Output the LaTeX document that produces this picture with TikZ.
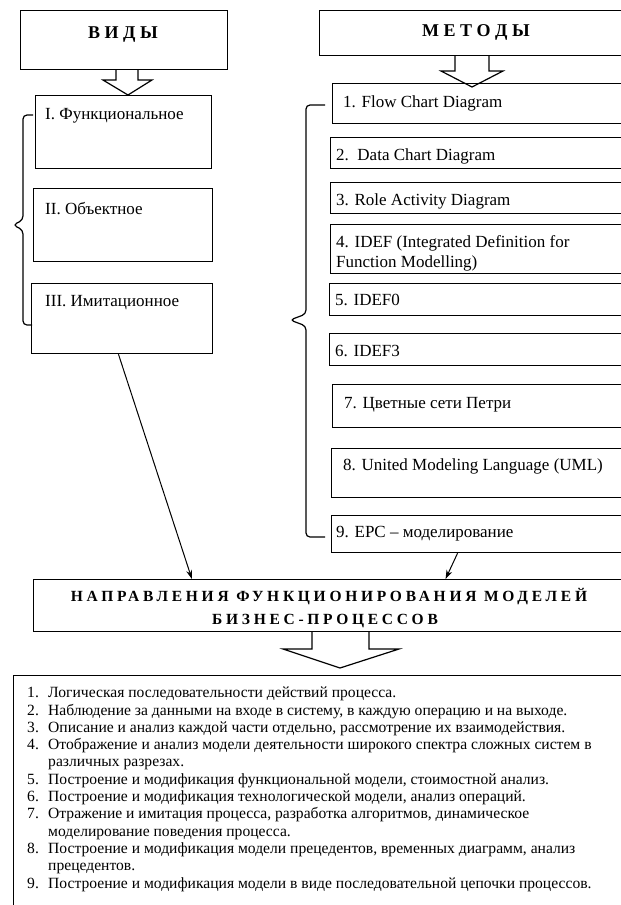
\documentclass[tikz,border=0pt]{standalone}
\usepackage{fontspec}
\setmainfont{Liberation Serif}
\newfontfamily\headfont[LetterSpace=24]{Liberation Serif}
\usetikzlibrary{arrows.meta,calc}
\tikzset{
  box/.style={draw, line width=1.2pt, inner sep=0pt, anchor=north west},
  btxt/.style={anchor=base west, inner sep=0pt, font=\fontsize{17}{20}\selectfont},
  ttl/.style={anchor=base, inner sep=0pt, font=\fontsize{18}{20}\selectfont\bfseries},
  htxt/.style={anchor=base, inner sep=0pt, font=\fontsize{15.5}{18}\headfont\bfseries},
  ltxt/.style={anchor=base west, inner sep=0pt, font=\fontsize{15.6}{17}\selectfont},
  hollow/.style={draw, line width=1.2pt, line join=miter},
  conn/.style={draw, line width=1pt, -{Stealth[length=9pt,width=6pt]}},
  brace/.style={draw, line width=1.2pt, rounded corners=4pt},
}
\newcommand\boxat[5]{\node[box, minimum width=#4pt, minimum height=#5pt] (#1) at (#2,#3) {};}
\newcommand\lline[4]{%
  \node[ltxt] (n#1) at (27,#2) {#3};
  \node[ltxt] (l#1) at (48,#2) {#4};}
\newcommand\lcont[3]{\node[ltxt] (l#1) at (48,#2) {#3};}
\begin{document}
\begin{tikzpicture}[x=1pt,y=-1pt]
\useasboundingbox (0,0) rectangle (621,905);
\clip (0,0) rectangle (621,905);
% hollow arrows
\draw[hollow] (116,69) -- (116,80) -- (103,80) -- (128,95) -- (152,80) -- (138,80) -- (138,69);
\draw[hollow] (455,55) -- (455,71) -- (441,71) -- (472,87) -- (503,71) -- (489,71) -- (489,55);
\draw[hollow] (312,631) -- (312,649) -- (283,649) -- (340,668) -- (399,649) -- (369,649) -- (369,631);
% left column
\boxat{vid}{20}{10}{207}{59}
\boxat{f1}{35}{95}{176}{73}
\boxat{f2}{33}{188}{179}{73}
\boxat{f3}{31}{283}{181}{70}
\node[ttl] (vidt) at (123,38) {В И Д Ы};
\node[btxt] (t1) at (45,119) {I. Функциональное};
\node[btxt] (t2) at (45,214) {II. Объектное};
\node[btxt] (t3) at (45,306) {III. Имитационное};
% right column
\boxat{met}{319}{10}{330}{45}
\boxat{m1}{332}{83}{320}{40}
\boxat{m2}{330}{137}{320}{31}
\boxat{m3}{330}{182}{320}{31}
\boxat{m4}{330}{224}{320}{49}
\boxat{m5}{329}{283}{320}{32}
\boxat{m6}{329}{333}{320}{32}
\boxat{m7}{332}{384}{320}{43}
\boxat{m8}{331}{448}{320}{49}
\boxat{m9}{331}{515}{320}{37}
\node[ttl] (mett) at (476,36) {М Е Т О Д Ы};
\node[btxt] (s1) at (343,107) {1. Flow Chart Diagram};
\node[btxt] (s2) at (336,160) {2.\ \ Data Chart Diagram};
\node[btxt] (s3) at (336,205) {3. Role Activity Diagram};
\node[btxt] (s4) at (336,247) {4. IDEF (Integrated Definition for};
\node[btxt] (s4b) at (336,267) {Function Modelling)};
\node[btxt] (s5) at (335,305) {5. IDEF0};
\node[btxt] (s6) at (335,356) {6. IDEF3};
\node[btxt] (s7) at (344,408) {7. Цветные сети Петри};
\node[btxt] (s8) at (343,470) {8. United Modeling Language (UML)};
\node[btxt] (s9) at (336,537) {9. EPC – моделирование};
% braces
\draw[brace] (33,115) -- (23,115) -- (23,220) -- (13,225) -- (23,230) -- (23,325) -- (32,325);
\draw[brace] (325,105) -- (306,105) -- (306,314) -- (290,320) -- (306,326) -- (306,537) -- (325,537);
% direction box
\boxat{dir}{33}{579}{610}{52}
\node[htxt] (d1) at (329,601) {НАПРАВЛЕНИЯ ФУНКЦИОНИРОВАНИЯ МОДЕЛЕЙ};
\node[htxt] (d2) at (325,624) {БИЗНЕС-ПРОЦЕССОВ};
% connectors
\draw[conn] ($(f3.south west)!0.48!(f3.south east)$) -- ($(dir.north west)!0.26!(dir.north east)$);
\draw[conn] ($(m9.south west)!0.394!(m9.south east)$) -- ($(dir.north west)!0.675!(dir.north east)$);
% list
\boxat{lst}{13}{675}{630}{260}
\lline{1}{697.7}{1.}{Логическая последовательности действий процесса.}
\lline{2}{715.0}{2.}{Наблюдение за данными на входе в систему, в каждую операцию и на выходе.}
\lline{3}{732.3}{3.}{Описание и анализ каждой части отдельно, рассмотрение их взаимодействия.}
\lline{4}{749.6}{4.}{Отображение и анализ модели деятельности широкого спектра сложных систем в}
\lcont{4b}{766.9}{различных разрезах.}
\lline{5}{784.2}{5.}{Построение и модификация функциональной модели, стоимостной анализ.}
\lline{6}{801.5}{6.}{Построение и модификация технологической модели, анализ операций.}
\lline{7}{818.8}{7.}{Отражение и имитация процесса, разработка алгоритмов, динамическое}
\lcont{7b}{836.1}{моделирование поведения процесса.}
\lline{8}{853.4}{8.}{Построение и модификация модели прецедентов, временных диаграмм, анализ}
\lcont{8b}{870.7}{прецедентов.}
\lline{9}{888.0}{9.}{Построение и модификация модели в виде последовательной цепочки процессов.}
\end{tikzpicture}
\end{document}
